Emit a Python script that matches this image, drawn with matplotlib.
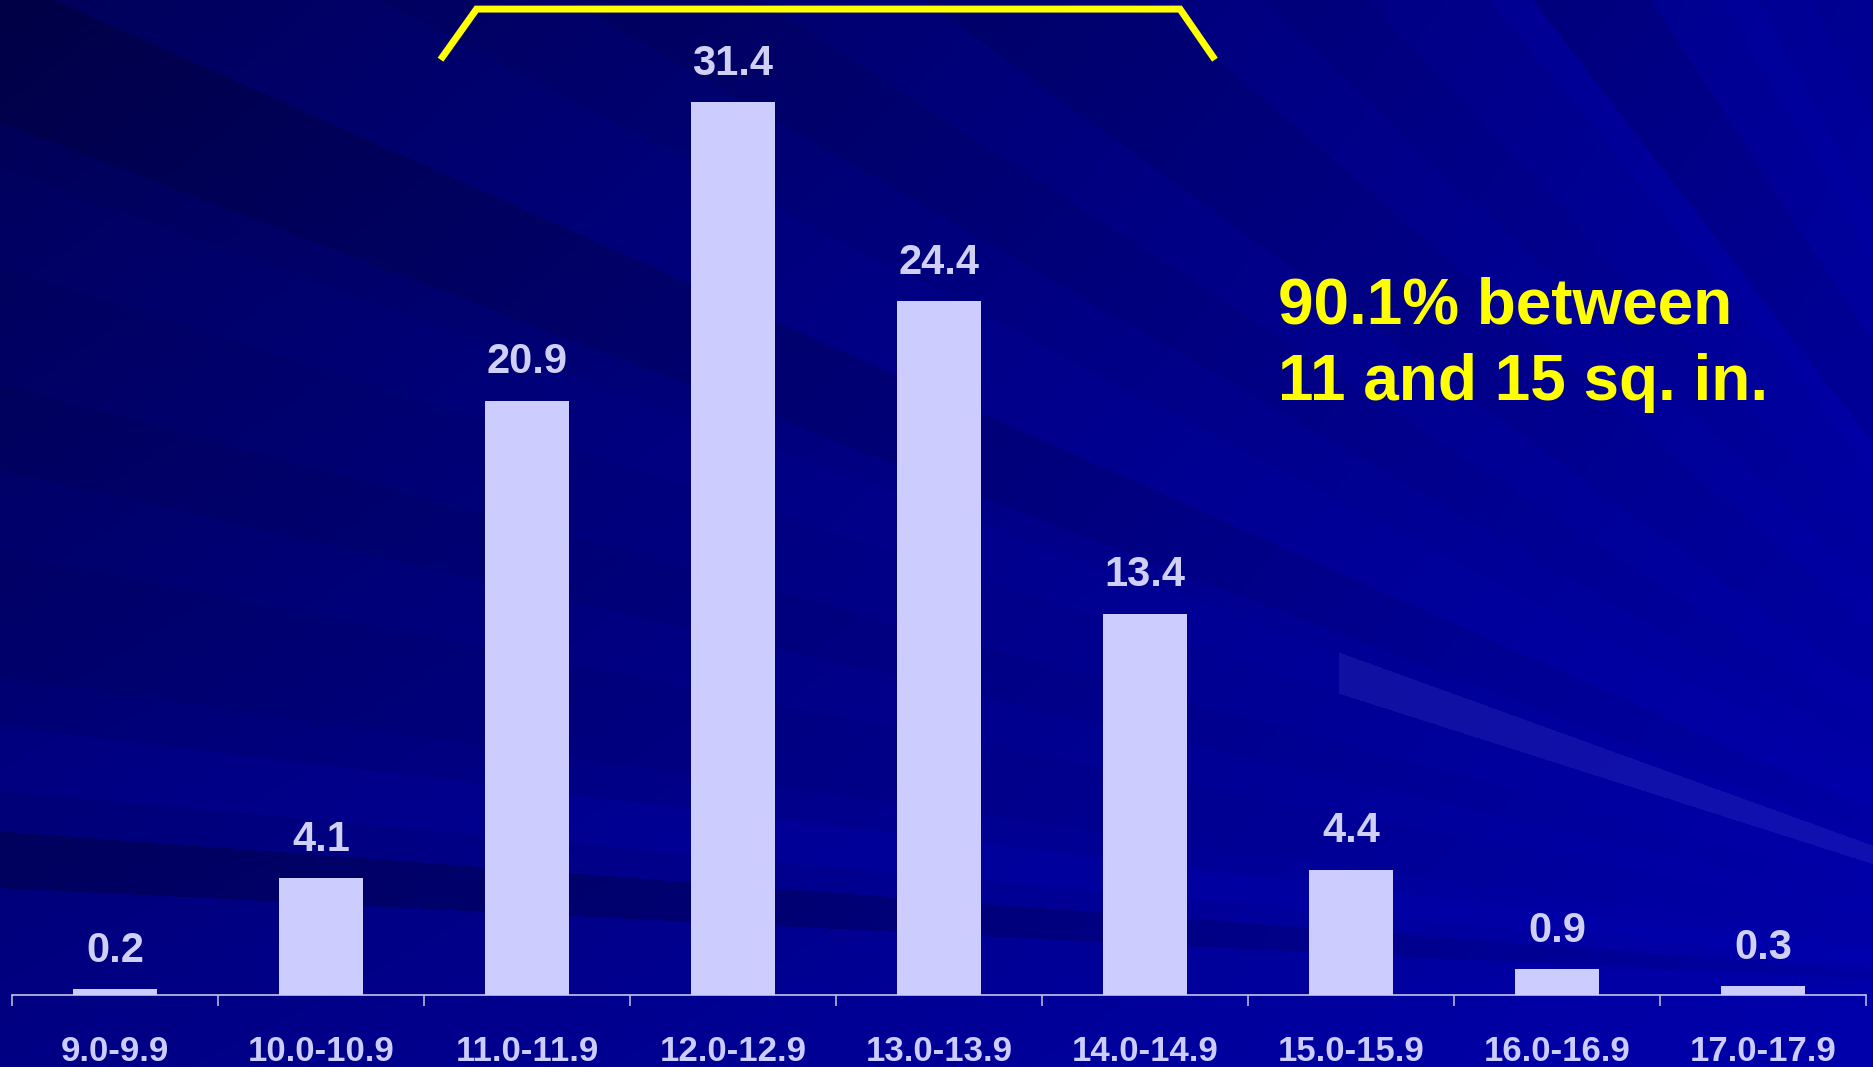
import numpy as np
import matplotlib
matplotlib.use("Agg")
import matplotlib.pyplot as plt
from matplotlib import font_manager

# data
categories = ["9.0-9.9", "10.0-10.9", "11.0-11.9", "12.0-12.9", "13.0-13.9",
              "14.0-14.9", "15.0-15.9", "16.0-16.9", "17.0-17.9"]
percent = [0.2, 4.1, 20.9, 31.4, 24.4, 13.4, 4.4, 0.9, 0.3]
note_lines = ["90.1% between", "11 and 15 sq. in."]

BAR_COLOR = "#CCCCFF"
LABEL_COLOR = "#D0D0F6"
YELLOW = "#FFFF00"

try:
    font_manager.findfont("Liberation Sans Narrow", fallback_to_default=False)
    tick_font = "Liberation Sans Narrow"
except ValueError:
    tick_font = "Liberation Sans"
plt.rcParams["font.family"] = ["Liberation Sans", "DejaVu Sans"]

W, H = 1873, 1067
fig = plt.figure(figsize=(W / 100, H / 100), dpi=100)

# background: dark blue slide with rays coming from the lower right
yy, xx = np.mgrid[0:H, 0:W].astype(float)
fx, fy = 2300.0, 1000.0
ang = np.degrees(np.arctan2(fy - yy, fx - xx))
dist = np.hypot(fx - xx, fy - yy)
fade = np.clip(dist / 1500.0, 0.3, 1.0)
blue = 82 + 50 * yy / H + 70 * xx / W - 30 * (xx / W) * (yy / H)
red = np.zeros_like(blue)
bands = [(2.8, 4.2, -28), (5.2, 6.8, 10), (8, 11, -6), (13, 15, -7),
         (17.7, 19.9, 5), (20.9, 24, -12), (24, 27.5, 7), (30, 33, -9),
         (36, 41, -12), (44, 47, -8), (51, 52.5, 10), (52.5, 57, -18),
         (60, 61.5, 8), (64, 68, -8)]
for lo, hi, d in bands:
    m = (ang >= lo) & (ang < hi)
    blue[m] += d * fade[m]
beam = (xx > 1338) & (ang >= 17.7) & (ang < 19.9)
red[beam] += 16
blue[beam] += 8
img = np.clip(np.dstack([red, red, blue]) / 255.0, 0, 1)

bg = fig.add_axes([0, 0, 1, 1])
bg.imshow(img, aspect="auto", interpolation="bilinear")
bg.set_axis_off()

ax = fig.add_axes([12 / W, 72 / H, (1866 - 12) / W, 1 - 72 / H])
ax.patch.set_alpha(0)
x = np.arange(len(categories))
bars = ax.bar(x, percent, width=0.41, color=BAR_COLOR, zorder=3)
ax.set_xlim(-0.5, len(categories) - 0.5)
ax.set_ylim(0, 35.0)

for xi, v in zip(x, percent):
    ax.annotate(f"{v}", (xi, v), xytext=(0, 20), textcoords="offset points",
                ha="center", va="baseline", fontsize=30, fontweight="bold",
                color=LABEL_COLOR)

for s in ["top", "left", "right"]:
    ax.spines[s].set_visible(False)
ax.spines["bottom"].set_color("#C4C4E4")
ax.spines["bottom"].set_linewidth(1.2)
ax.set_yticks([])
ax.set_xticks(x)
ax.set_xticklabels(categories, fontsize=25, fontweight="bold",
                   color=BAR_COLOR, family=tick_font)
ax.tick_params(axis="x", which="major", length=0, pad=29)
ax.set_xticks(np.arange(-0.5, len(categories)), minor=True)
ax.tick_params(axis="x", which="minor", length=8, width=1.1,
               color="#C4C4E4", direction="out")

# bracket over 11.0-14.9
ax.plot([1.59, 1.755, 5.17, 5.33], [33.0, 34.68, 34.68, 33.0],
        color=YELLOW, lw=5, solid_joinstyle="miter", clip_on=False,
        zorder=4)

fig.text(1278 / W, 1 - 324 / H, note_lines[0], fontsize=46,
         fontweight="bold", color=YELLOW, ha="left", va="baseline")
fig.text(1278 / W, 1 - 400 / H, note_lines[1], fontsize=46,
         fontweight="bold", color=YELLOW, ha="left", va="baseline")

fig.savefig("out.png", dpi=100)
